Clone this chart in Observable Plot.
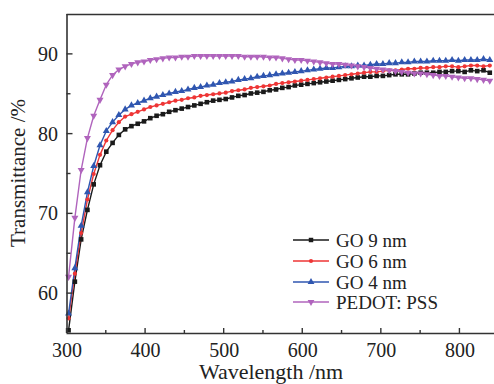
<!DOCTYPE html>
<html>
<head>
<meta charset="utf-8">
<script src="https://cdn.jsdelivr.net/npm/d3@7"></script>
<script src="https://cdn.jsdelivr.net/npm/@observablehq/plot@0.6"></script>
<style>
  html, body { margin: 0; padding: 0; background: #fff; }
  #chart svg { display: block; }
</style>
</head>
<body>
<div id="chart"></div>
<script>
// ---- data ----
const wavelengths = d3.range(302, 839, 8); // sampling wavelengths, nm
const seriesNames = ["GO 9 nm", "GO 6 nm", "GO 4 nm", "PEDOT: PSS"];
const seriesColors = ["#1a1a1a", "#ee3535", "#2f56b0", "#b064bd"];
const go9 = [55.4,61.5,66.8,70.5,73.7,76.1,77.8,78.9,79.9,80.6,81.0,81.3,81.6,82.0,82.3,82.5,82.8,83.0,83.2,83.4,83.6,83.8,84.0,84.2,84.3,84.4,84.6,84.8,84.9,85.1,85.2,85.3,85.5,85.6,85.8,85.9,86.1,86.2,86.3,86.4,86.5,86.6,86.7,86.8,86.9,87.0,87.1,87.2,87.2,87.3,87.3,87.4,87.5,87.5,87.5,87.6,87.7,87.7,87.7,87.8,87.8,87.9,87.9,87.8,88.0,87.9,88.0,87.7];
const go6 = [56.9,62.5,67.6,71.8,75.0,77.4,79.2,80.5,81.5,82.2,82.5,82.8,83.1,83.4,83.6,83.8,84.0,84.2,84.3,84.5,84.6,84.8,84.9,85.0,85.1,85.2,85.4,85.5,85.6,85.8,85.9,86.0,86.1,86.3,86.4,86.5,86.6,86.7,86.8,86.9,87.0,87.1,87.2,87.3,87.4,87.5,87.6,87.7,87.8,87.8,87.9,88.0,88.0,88.1,88.2,88.2,88.3,88.3,88.4,88.4,88.5,88.5,88.4,88.5,88.6,88.6,88.5,88.6];
const go4 = [57.5,63.2,68.5,72.7,76.0,78.6,80.4,81.5,82.4,83.1,83.6,83.9,84.2,84.5,84.7,84.9,85.1,85.3,85.4,85.6,85.8,85.9,86.1,86.2,86.4,86.5,86.6,86.8,86.9,87.0,87.2,87.3,87.4,87.5,87.6,87.7,87.8,87.9,88.0,88.1,88.2,88.3,88.3,88.4,88.5,88.5,88.6,88.6,88.7,88.8,88.8,88.9,88.9,89.0,89.0,89.1,89.1,89.1,89.2,89.2,89.2,89.3,89.2,89.3,89.3,89.3,89.4,89.3];
const pedot = [62.1,69.5,75.5,79.5,82.3,84.3,86.2,87.4,88.1,88.5,88.8,89.0,89.1,89.3,89.4,89.5,89.6,89.6,89.7,89.7,89.8,89.8,89.8,89.8,89.8,89.8,89.8,89.8,89.7,89.7,89.7,89.7,89.6,89.6,89.5,89.4,89.3,89.3,89.2,89.1,89.0,88.9,88.8,88.8,88.7,88.6,88.5,88.4,88.3,88.2,88.1,88.0,87.9,87.8,87.7,87.6,87.6,87.5,87.4,87.3,87.3,87.2,87.1,87.0,87.0,86.9,86.8,86.7];
const xTicks = [300, 400, 500, 600, 700, 800];
const xMinorTicks = [350, 450, 550, 650, 750];
const yTicks = [60, 70, 80, 90];
const yMinorTicks = [65, 75, 85];
const xDomain = [300, 844];
const yDomain = [55, 95];

// ---- build table ----
const seriesValues = [go9, go6, go4, pedot];
const symbols = ["square", "circle", "triangle", "triangle"];
const rotations = [0, 0, 0, 180];
const rows = [];
seriesValues.forEach((vals, si) => {
  vals.forEach((v, i) => rows.push({series: seriesNames[si], si, x: wavelengths[i], y: v}));
});

const FONT = "'Liberation Serif', 'DejaVu Serif', serif";
const axisColor = "#333";

const marks = [
  ...seriesNames.map((name, si) => Plot.line(rows.filter(d => d.si === si), {
    x: "x", y: "y", stroke: seriesColors[si], strokeWidth: 1.4
  })),
  ...seriesNames.map((name, si) => Plot.dot(rows.filter(d => d.si === si), {
    x: "x", y: "y", fill: seriesColors[si], stroke: "none",
    symbol: symbols[si], r: si === 1 ? 2.1 : 2.6, rotate: rotations[si]
  })),
  Plot.ruleX([xDomain[0]], {stroke: axisColor, strokeWidth: 1.6}),
  Plot.ruleY([yDomain[0], yDomain[1]], {stroke: axisColor, strokeWidth: 1.6}),
  Plot.axisX({ticks: xTicks, tickSize: 0, tickPadding: 9, fontSize: 20, label: null, tickFormat: d => d, fill: "#222"}),
  Plot.axisY({ticks: yTicks, tickSize: 0, tickPadding: 9, fontSize: 20, label: null, tickFormat: d => d, fill: "#222"})
];

const chart = Plot.plot({
  width: 494,
  height: 384,
  marginLeft: 66.5,
  marginRight: 0,
  marginTop: 14,
  marginBottom: 51,
  style: {fontFamily: FONT, color: "#222", background: "#fff", overflow: "hidden"},
  x: {domain: xDomain},
  y: {domain: yDomain},
  marks
});

document.getElementById("chart").appendChild(chart);

// inward ticks drawn through the plot's own scales
const sx = chart.scale("x"), sy = chart.scale("y");
const svg = d3.select(chart);
const tg = svg.append("g").attr("stroke", axisColor).attr("stroke-width", 1.4);
xTicks.forEach(t => tg.append("line").attr("x1", sx.apply(t)).attr("x2", sx.apply(t))
  .attr("y1", sy.apply(yDomain[0])).attr("y2", sy.apply(yDomain[0]) - 5));
xMinorTicks.forEach(t => tg.append("line").attr("x1", sx.apply(t)).attr("x2", sx.apply(t))
  .attr("y1", sy.apply(yDomain[0])).attr("y2", sy.apply(yDomain[0]) - 3));
yTicks.forEach(t => tg.append("line").attr("y1", sy.apply(t)).attr("y2", sy.apply(t))
  .attr("x1", sx.apply(xDomain[0])).attr("x2", sx.apply(xDomain[0]) + 6));
yMinorTicks.forEach(t => tg.append("line").attr("y1", sy.apply(t)).attr("y2", sy.apply(t))
  .attr("x1", sx.apply(xDomain[0])).attr("x2", sx.apply(xDomain[0]) + 4));

// axis titles
svg.append("text").attr("x", 271).attr("y", 379).attr("text-anchor", "middle")
  .attr("font-family", FONT).attr("font-size", 22).attr("fill", "#222").text("Wavelength /nm");
svg.append("text").attr("transform", "translate(25,173) rotate(-90)").attr("text-anchor", "middle")
  .attr("font-family", FONT).attr("font-size", 21).attr("fill", "#222").text("Transmittance /%");

// legend
const legendY = [240, 261, 282, 302];
const lg = svg.append("g").attr("text-anchor", "start");
seriesNames.forEach((name, si) => {
  const y = legendY[si];
  lg.append("line").attr("x1", 293).attr("x2", 329).attr("y1", y).attr("y2", y)
    .attr("stroke", seriesColors[si]).attr("stroke-width", 1.6);
  const symType = [d3.symbolSquare, d3.symbolCircle, d3.symbolTriangle, d3.symbolTriangle][si];
  lg.append("path").attr("d", d3.symbol(symType, si === 1 ? 14 : 20)())
    .attr("transform", `translate(311,${y}) rotate(${rotations[si]})`).attr("fill", seriesColors[si]);
  lg.append("text").attr("x", 336).attr("y", y).attr("dy", "0.35em").attr("text-anchor", "start")
    .attr("font-family", FONT).attr("font-size", 19).attr("fill", "#222").text(name);
});
</script>
</body>
</html>
